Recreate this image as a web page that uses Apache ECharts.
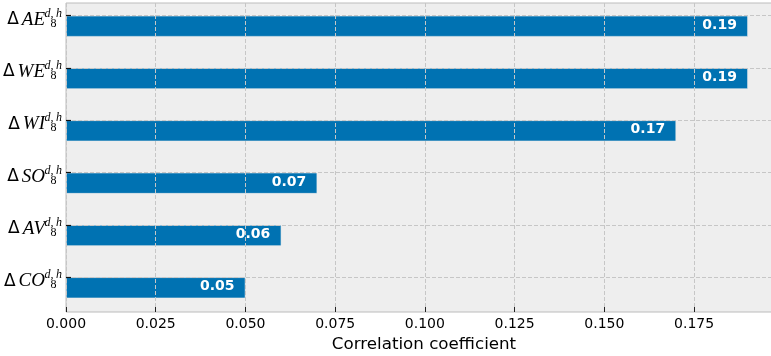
<!DOCTYPE html>
<html>
<head>
<meta charset="utf-8">
<script src="https://cdn.jsdelivr.net/npm/echarts@6/dist/echarts.min.js"></script>
<style>
  html, body { margin: 0; padding: 0; background: #ffffff; }
  #chart { width: 771px; height: 356px; }
</style>
</head>
<body>
<div id="chart"></div>
<script>
// Feature names (top to bottom) and their correlation coefficients
const categories = ['AE', 'WE', 'WI', 'SO', 'AV', 'CO'];
const coefficients = [0.19, 0.19, 0.17, 0.07, 0.06, 0.05];
const subIndex = '8';
const supIndex = 'd,\u2009h';

// Value axis range and tick step
const xMin = 0;
const xMax = 0.1995;
const xStep = 0.025;
const xTitle = 'Correlation coefficient';

const gridLine = { color: '#c6c6c6', width: 1, type: [4, 2] };

const chart = echarts.init(document.getElementById('chart'), null, { renderer: 'canvas' });

chart.setOption({
  animation: false,
  grid: [
    // plot frame, background and value axis (runs past the right edge of the canvas)
    { left: 66, width: 716, top: 3, height: 309, show: true, outerBoundsMode: 'none',
      backgroundColor: '#eeeeee', borderColor: '#bcbcbc', borderWidth: 1 },
    // bars: category ticks sit on the top edge of each bar
    { left: 66, width: 716, top: 15.7, height: 261.6, show: false, outerBoundsMode: 'none' }
  ],
  xAxis: [
    {
      gridIndex: 0, type: 'value', min: xMin, max: xMax, interval: xStep, z: 3,
      axisLine: { show: false },
      axisTick: { show: true, inside: true, length: 5, lineStyle: { color: '#222', width: 1 } },
      axisLabel: {
        showMaxLabel: false, margin: 5, color: '#000',
        fontFamily: 'DejaVu Sans', fontSize: 14,
        formatter: v => v.toFixed(3)
      },
      splitLine: { show: true, lineStyle: gridLine },
      name: xTitle, nameLocation: 'middle', nameGap: 24,
      nameTextStyle: { fontFamily: 'DejaVu Sans', fontSize: 16.7, color: '#000' }
    },
    { gridIndex: 1, type: 'value', min: xMin, max: xMax, interval: xStep, show: false }
  ],
  yAxis: [
    {
      gridIndex: 1, type: 'category', data: categories, inverse: true, boundaryGap: false,
      position: 'left', z: 3,
      axisLine: { show: false },
      axisTick: { show: true, inside: true, length: 5, interval: 0, lineStyle: { color: '#111', width: 1.2 } },
      splitLine: { show: true, interval: 0, lineStyle: gridLine },
      axisLabel: {
        interval: 0, margin: 4, padding: [8, 0, 0, 0],
        formatter: v => '{d|\u0394}{m|' + v + '}{s|' + subIndex + '}',
        rich: {
          d: { fontFamily: 'DejaVu Sans', fontSize: 17, color: '#000', lineHeight: 20 },
          m: { fontFamily: 'Liberation Serif', fontStyle: 'italic', fontSize: 19, color: '#000',
               lineHeight: 20, padding: [0, 0, 0, 3] },
          s: { fontFamily: 'Liberation Serif', fontSize: 12, color: '#000', lineHeight: 12,
               width: 17, align: 'left', verticalAlign: 'bottom' }
        }
      }
    },
    {
      gridIndex: 1, type: 'category', data: categories, inverse: true, boundaryGap: false,
      position: 'left', offset: 0,
      axisLine: { show: false }, axisTick: { show: false }, splitLine: { show: false },
      axisLabel: {
        interval: 0, margin: 4, padding: [0, 0, 4, 0],
        formatter: () => '{p|' + supIndex + '}',
        rich: {
          p: { fontFamily: 'Liberation Serif', fontStyle: 'italic', fontSize: 12, color: '#000', lineHeight: 12 }
        }
      }
    },
    // companion axis for the frame grid
    { gridIndex: 0, type: 'value', show: false }
  ],
  series: [
    {
      // empty slot above each tick so the visible bar hangs below it
      name: 'slot', type: 'bar', xAxisIndex: 1, yAxisIndex: 0,
      data: categories.map(() => '-'), barWidth: 21, barGap: '0%', silent: true
    },
    {
      name: 'coefficient', type: 'bar', xAxisIndex: 1, yAxisIndex: 0,
      data: coefficients, barWidth: 21, barGap: '0%', clip: false, z: 2,
      itemStyle: { color: '#0072B2', borderColor: '#eeeeee', borderWidth: 0.6 },
      label: {
        show: true, position: 'insideRight', distance: 11, offset: [0, -1],
        color: '#ffffff', fontFamily: 'DejaVu Sans', fontWeight: 'bold', fontSize: 14,
        formatter: p => p.value.toFixed(2)
      }
    }
  ]
});
</script>
</body>
</html>
